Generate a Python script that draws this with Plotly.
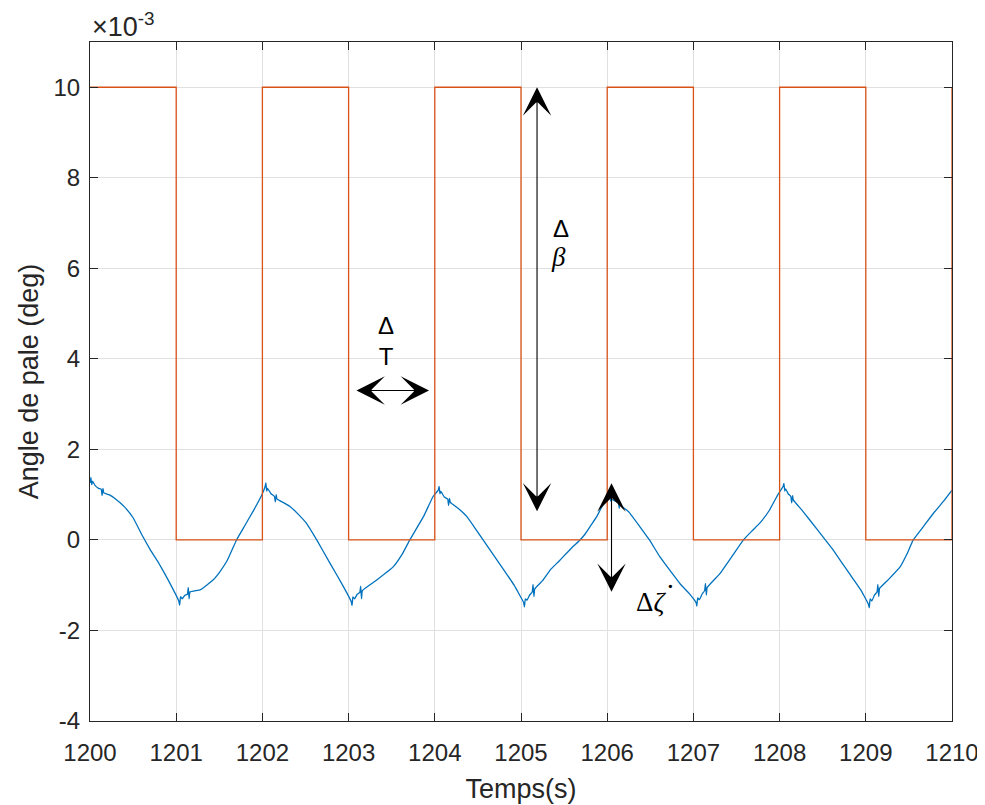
import plotly.graph_objects as go

# ---------------- data (values in units of 1e-3 deg) ----------------
step_t = [1200, 1201, 1202, 1203, 1204, 1205, 1206, 1207, 1208, 1209, 1210]
step_v = [10, 0, 10, 0, 10, 0, 10, 0, 10, 0, 10]

blue_t = [
    1200.00, 1200.01, 1200.02, 1200.03, 1200.06, 1200.10, 1200.13, 1200.14, 1200.15, 1200.16,
    1200.22, 1200.30, 1200.40, 1200.50, 1200.60, 1200.70, 1200.80, 1200.90, 1201.03,
    1201.04, 1201.05, 1201.07, 1201.10, 1201.13, 1201.14, 1201.15, 1201.16,
    1201.28, 1201.43, 1201.50, 1201.59, 1201.65, 1201.70, 1201.80, 1201.90, 1201.99, 1202.03,
    1202.04, 1202.05, 1202.06, 1202.10, 1202.14, 1202.15, 1202.16, 1202.17,
    1202.25, 1202.32, 1202.42, 1202.51, 1202.63, 1202.78, 1202.94, 1203.03,
    1203.04, 1203.05, 1203.07, 1203.10, 1203.13, 1203.14, 1203.15, 1203.16,
    1203.33, 1203.52, 1203.62, 1203.71, 1203.87, 1203.98, 1204.04,
    1204.05, 1204.06, 1204.07, 1204.11, 1204.15, 1204.16, 1204.17, 1204.18,
    1204.27, 1204.37, 1204.46, 1204.56, 1204.68, 1204.80, 1204.92, 1205.03,
    1205.04, 1205.05, 1205.07, 1205.10, 1205.13, 1205.14, 1205.15, 1205.16,
    1205.25, 1205.34, 1205.44, 1205.53, 1205.60, 1205.67, 1205.74, 1205.80, 1205.88, 1205.96, 1206.02,
    1206.03, 1206.04, 1206.05, 1206.09, 1206.13, 1206.14, 1206.15, 1206.16,
    1206.25, 1206.38, 1206.49, 1206.61, 1206.73, 1206.85, 1206.95, 1207.03,
    1207.04, 1207.05, 1207.07, 1207.10, 1207.13, 1207.14, 1207.15, 1207.16,
    1207.31, 1207.45, 1207.58, 1207.68, 1207.77, 1207.88, 1207.98, 1208.04,
    1208.05, 1208.06, 1208.07, 1208.10, 1208.13, 1208.14, 1208.15, 1208.16,
    1208.25, 1208.35, 1208.53, 1208.62, 1208.75, 1208.86, 1208.95, 1209.03,
    1209.04, 1209.05, 1209.07, 1209.10, 1209.13, 1209.14, 1209.15, 1209.16,
    1209.27, 1209.40, 1209.48, 1209.55, 1209.67, 1209.785, 1209.90, 1210.00,
]
blue_v = [
    1.26, 1.38, 1.22, 1.30, 1.20, 1.14, 1.12, 0.98, 1.14, 1.04,
    1.00, 0.90, 0.73, 0.49, 0.12, -0.22, -0.52, -0.86, -1.35,
    -1.44, -1.25, -1.30, -1.22, -1.20, -1.05, -1.30, -1.15,
    -1.10, -0.88, -0.72, -0.46, -0.21, 0.00, 0.33, 0.66, 0.98, 1.17,
    1.26, 1.08, 1.14, 1.02, 0.96, 0.84, 1.00, 0.90,
    0.82, 0.74, 0.56, 0.37, 0.00, -0.50, -1.03, -1.36,
    -1.45, -1.26, -1.30, -1.20, -1.16, -1.02, -1.30, -1.12,
    -0.88, -0.59, -0.32, 0.00, 0.52, 0.96, 1.10,
    1.18, 1.02, 1.07, 0.95, 0.90, 0.76, 0.92, 0.83,
    0.70, 0.52, 0.28, 0.00, -0.33, -0.66, -1.00, -1.38,
    -1.48, -1.30, -1.33, -1.22, -1.15, -0.98, -1.25, -1.08,
    -0.90, -0.66, -0.47, -0.29, -0.15, -0.03, 0.12, 0.29, 0.52, 0.81, 0.92,
    1.00, 0.86, 0.90, 0.86, 0.82, 0.70, 0.84, 0.76,
    0.62, 0.29, 0.00, -0.37, -0.68, -0.98, -1.18, -1.38,
    -1.46, -1.28, -1.32, -1.20, -1.12, -0.96, -1.22, -1.05,
    -0.74, -0.36, 0.00, 0.20, 0.37, 0.65, 1.00, 1.18,
    1.25, 1.08, 1.13, 1.02, 0.96, 0.82, 0.98, 0.88,
    0.68, 0.44, 0.00, -0.22, -0.58, -0.88, -1.13, -1.42,
    -1.50, -1.30, -1.35, -1.22, -1.15, -0.98, -1.25, -1.07,
    -0.86, -0.59, -0.30, 0.00, 0.30, 0.59, 0.85, 1.10,
]

x_ticks = [1200, 1201, 1202, 1203, 1204, 1205, 1206, 1207, 1208, 1209, 1210]
x_ticktext = ["1200", "1201", "1202", "1203", "1204", "1205", "1206", "1207", "1208", "1209", "1210"]
y_ticks = [-4, -2, 0, 2, 4, 6, 8, 10]
y_ticktext = ["-4", "-2", "0", "2", "4", "6", "8", "10"]

# annotation arrows: (head x, head y, tail x, tail y)
arrow_dT = [1203.933, 3.30, 1203.074, 3.30]
arrow_dbeta = [1205.186, 10.0, 1205.186, 0.60]
arrow_dzeta = [1206.05, 1.25, 1206.05, -1.18]

AX = "#262626"
FONT = "Liberation Sans"

fig = go.Figure()
fig.add_trace(go.Scatter(x=blue_t, y=blue_v, mode="lines",
                         line=dict(color="#0072BD", width=1.3, shape="spline", smoothing=0.3),
                         showlegend=False))
fig.add_trace(go.Scatter(x=step_t, y=step_v, mode="lines", line_shape="hv",
                         line=dict(color="#D95319", width=1.3), showlegend=False))

ann = []
for a in (arrow_dT, arrow_dbeta, arrow_dzeta):
    ann.append(dict(x=a[0], y=a[1], ax=a[2], ay=a[3], xref="x", yref="y",
                    axref="x", ayref="y", text="", showarrow=True,
                    arrowhead=3, startarrowhead=3, arrowside="end+start",
                    arrowsize=4.3, startarrowsize=4.3, arrowwidth=1.1,
                    arrowcolor="black", standoff=0, startstandoff=0))

ann.append(dict(x=1203.43, y=4.40, xref="x", yref="y", text="Δ<br>T",
                showarrow=False, font=dict(family=FONT, size=24, color="black")))
ann.append(dict(x=1205.46, y=6.89, xref="x", yref="y", text="Δ",
                showarrow=False, font=dict(family=FONT, size=24, color="black")))
ann.append(dict(x=1205.44, y=6.25, xref="x", yref="y", text="<i>β</i>",
                showarrow=False, font=dict(family="Liberation Serif", size=27, color="black")))
ann.append(dict(x=1206.505, y=-1.38, xref="x", yref="y", text="Δ<i>ζ</i>",
                showarrow=False, font=dict(family="Liberation Serif", size=27, color="black")))
ann.append(dict(x=1206.73, y=-1.21, xref="x", yref="y", text="˙",
                showarrow=False, font=dict(family="Liberation Serif", size=32, color="black")))
ann.append(dict(x=0, y=1, xref="paper", yref="paper", xanchor="left", yanchor="bottom",
                xshift=0, yshift=-2, text="×10<sup>-3</sup>", showarrow=False,
                font=dict(family=FONT, size=27, color=AX)))

axis_common = dict(
    ticks="inside", ticklen=8, tickwidth=1, tickcolor=AX,
    showline=True, linecolor=AX, linewidth=1, mirror="ticks",
    showgrid=True, gridcolor="#e0e0e0", gridwidth=1, zeroline=False,
    tickfont=dict(family=FONT, size=24, color=AX), automargin=False,
)

# the page body has an 8px default margin; size the figure so the plot area
# lands where the reference has it
fig.update_layout(
    width=977, height=797,
    margin=dict(l=82, r=33, t=34, b=84, pad=0),
    plot_bgcolor="white", paper_bgcolor="white",
    xaxis=dict(range=[1200, 1210], tickvals=x_ticks, ticktext=x_ticktext, ticklabelstandoff=10,
               title=dict(text="Temps(s)", font=dict(family=FONT, size=27, color=AX), standoff=14),
               **axis_common),
    yaxis=dict(range=[-4, 11], tickvals=y_ticks, ticktext=y_ticktext, ticklabelstandoff=4,
               title=dict(text="Angle de pale (deg)", font=dict(family=FONT, size=27, color=AX), standoff=7),
               **axis_common),
    annotations=ann,
)

fig.write_html("out.html")
